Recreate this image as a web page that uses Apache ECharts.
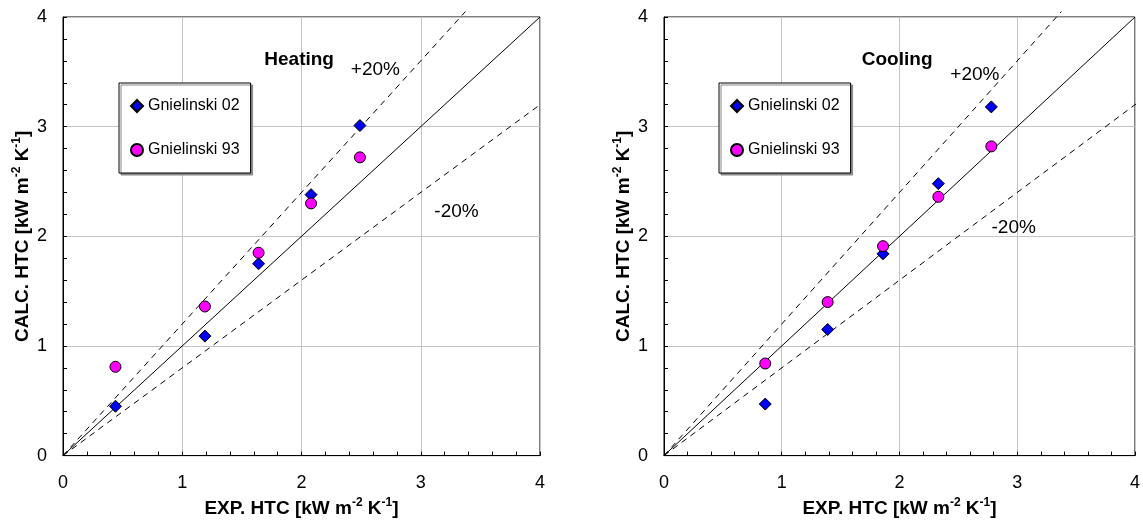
<!DOCTYPE html>
<html>
<head>
<meta charset="utf-8">
<script src="https://cdn.jsdelivr.net/npm/echarts@6/dist/echarts.min.js"></script>
<style>
  html, body { margin: 0; padding: 0; background: #fff; }
  #chart { width: 1143px; height: 523px; }
</style>
</head>
<body>
<div id="chart"></div>
<script>
// Heating panel (left)
const heatExp = [0.44, 1.19, 1.64, 2.08, 2.49];
const heatG02 = [0.45, 1.09, 1.75, 2.38, 3.01];
const heatG93 = [0.81, 1.36, 1.85, 2.30, 2.72];

// Cooling panel (right)
const coolExp = [0.86, 1.39, 1.86, 2.33, 2.78];
const coolG02 = [0.47, 1.15, 1.84, 2.48, 3.18];
const coolG93 = [0.84, 1.40, 1.91, 2.36, 2.82];

const axisTicks = [0, 1, 2, 3, 4];
const seriesNames = ['Gnielinski 02', 'Gnielinski 93'];

// reference lines: exp = calc, +20%, -20%
const diagLine = [[0, 0], [4, 4]];
const plus20Line = [[0, 0], [3.375, 4.05]];
const minus20Line = [[0, 0], [4.05, 3.24]];

// annotation texts anchored in data units
const heatNotes = [['Heating', 1.98, 3.61], ['+20%', 2.62, 3.52], ['-20%', 3.30, 2.22]];
const coolNotes = [['Cooling', 1.98, 3.61], ['+20%', 2.64, 3.47], ['-20%', 2.97, 2.08]];

const FONT = 'Arial, "Liberation Sans", sans-serif';

const chart = echarts.init(document.getElementById('chart'));

function pairs(xs, ys) {
  return xs.map((x, i) => [x, ys[i]]);
}

function axisName(label) {
  return '{b|' + label + ' HTC [kW m}{s|-2}{b| K}{s|-1}{b|]}';
}

const nameRich = {
  b: { fontFamily: FONT, fontSize: 19, fontWeight: 'bold', color: '#000', lineHeight: 24 },
  s: { fontFamily: FONT, fontSize: 12, fontWeight: 'bold', color: '#000', lineHeight: 12, verticalAlign: 'top' }
};

function makeAxis(dim, gridIndex) {
  const isX = dim === 'x';
  return {
    type: 'value',
    gridIndex: gridIndex,
    min: axisTicks[0],
    max: axisTicks[axisTicks.length - 1],
    interval: 1,
    name: axisName(isX ? 'EXP.' : 'CALC.'),
    nameLocation: 'middle',
    nameGap: isX ? 38 : 28,
    nameTextStyle: { rich: nameRich },
    axisLine: { show: true, lineStyle: { color: '#000', width: 1 } },
    axisTick: { show: true, inside: true, length: 4, lineStyle: { color: '#000' } },
    minorTick: { show: true, splitNumber: 5, length: 4, lineStyle: { color: '#000' } },
    axisLabel: {
      margin: isX ? 18 : 16,
      fontFamily: FONT,
      fontSize: 18,
      color: '#000'
    },
    splitLine: { show: true, lineStyle: { color: '#c4c4c4', width: 1 } }
  };
}

function makeLegend(left) {
  return {
    orient: 'vertical',
    left: left,
    top: 83,
    data: seriesNames,
    itemWidth: 12,
    itemHeight: 12,
    itemGap: 28,
    padding: [15, 11, 15, 11],
    backgroundColor: '#fff',
    borderColor: '#000',
    borderWidth: 1,
    shadowColor: '#8a8a8a',
    shadowBlur: 0,
    shadowOffsetX: 2,
    shadowOffsetY: 2,
    selectedMode: false,
    textStyle: { fontFamily: FONT, fontSize: 16, color: '#000', lineHeight: 16 }
  };
}

function refLine(data, dashed, idx) {
  return {
    type: 'line',
    xAxisIndex: idx,
    yAxisIndex: idx,
    data: data,
    symbol: 'none',
    silent: true,
    clip: false,
    z: 1,
    lineStyle: { color: '#000', width: 1, type: dashed ? [6, 5] : 'solid' }
  };
}

function scatter(name, xs, ys, idx, symbol, color, size) {
  return {
    type: 'scatter',
    name: name,
    xAxisIndex: idx,
    yAxisIndex: idx,
    data: pairs(xs, ys),
    symbol: symbol,
    symbolSize: size,
    z: 3,
    itemStyle: { color: color, borderColor: '#000', borderWidth: 1, opacity: 1 }
  };
}

const option = {
  backgroundColor: '#fff',
  animation: false,
  grid: [
    { left: 63, top: 17, width: 477, height: 443, show: true, borderColor: '#000', borderWidth: 1 },
    { left: 664, top: 17, width: 475, height: 443, show: true, borderColor: '#000', borderWidth: 1 }
  ],
  legend: [makeLegend(119), makeLegend(719)],
  xAxis: [makeAxis('x', 0), makeAxis('x', 1)],
  yAxis: [makeAxis('y', 0), makeAxis('y', 1)],
  series: [
    refLine(diagLine, false, 0),
    refLine(plus20Line, true, 0),
    refLine(minus20Line, true, 0),
    scatter(seriesNames[0], heatExp, heatG02, 0, 'diamond', '#0000f0', 12),
    scatter(seriesNames[1], heatExp, heatG93, 0, 'circle', '#ff00ff', 11),

    refLine(diagLine, false, 1),
    refLine(plus20Line, true, 1),
    refLine(minus20Line, true, 1),
    scatter(seriesNames[0], coolExp, coolG02, 1, 'diamond', '#0000f0', 12),
    scatter(seriesNames[1], coolExp, coolG93, 1, 'circle', '#ff00ff', 11)
  ]
};

chart.setOption(option);

// place the panel titles and +/-20% notes through the grid's own coordinate system
function noteTexts(list, gridIndex) {
  return list.map((n, i) => {
    const pt = chart.convertToPixel({ gridIndex: gridIndex }, [n[1], n[2]]);
    return {
      type: 'text',
      x: pt[0],
      y: pt[1],
      z: 10,
      silent: true,
      style: {
        text: n[0],
        fill: '#000',
        font: (i === 0 ? 'bold ' : '') + '19px ' + FONT,
        align: 'center',
        verticalAlign: 'middle'
      }
    };
  });
}

chart.setOption({
  graphic: noteTexts(heatNotes, 0).concat(noteTexts(coolNotes, 1))
});
</script>
</body>
</html>
